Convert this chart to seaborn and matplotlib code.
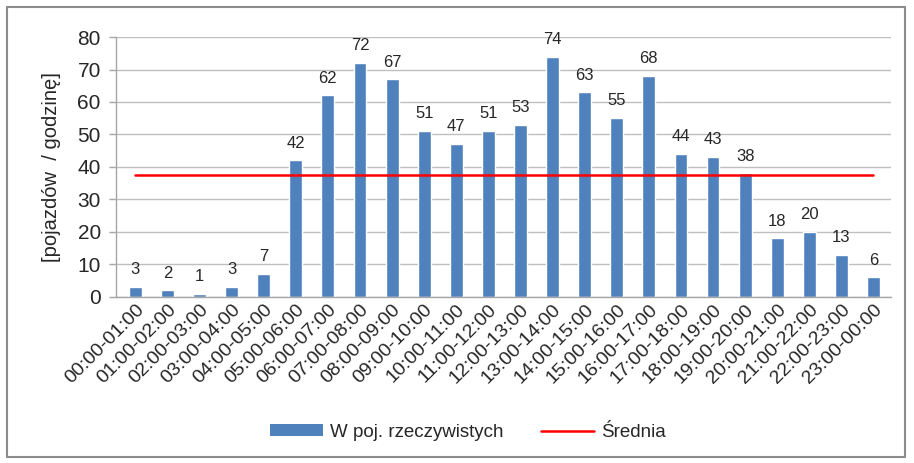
import matplotlib
matplotlib.use("Agg")
import matplotlib.pyplot as plt
import pandas as pd
import seaborn as sns
from matplotlib.lines import Line2D
from matplotlib.patches import Patch, Rectangle

# ── data ──────────────────────────────────────────────────────────────────
hours = [
    "00:00-01:00", "01:00-02:00", "02:00-03:00", "03:00-04:00", "04:00-05:00",
    "05:00-06:00", "06:00-07:00", "07:00-08:00", "08:00-09:00", "09:00-10:00",
    "10:00-11:00", "11:00-12:00", "12:00-13:00", "13:00-14:00", "14:00-15:00",
    "15:00-16:00", "16:00-17:00", "17:00-18:00", "18:00-19:00", "19:00-20:00",
    "20:00-21:00", "21:00-22:00", "22:00-23:00", "23:00-00:00",
]
vehicles = [3, 2, 1, 3, 7, 42, 62, 72, 67, 51, 47, 51, 53, 74, 63, 55, 68,
            44, 43, 38, 18, 20, 13, 6]
mean_value = sum(vehicles) / len(vehicles)

bar_label = "W poj. rzeczywistych"
line_label = "Średnia"
y_label = "[pojazdów  / godzinę]"

BAR_COLOR = "#4F81BD"
LINE_COLOR = "#FF0000"
GRID_COLOR = "#BFBFBF"
TEXT_COLOR = "#262626"

sns.set_theme(style="white")
plt.rcParams["font.family"] = ["Liberation Sans", "DejaVu Sans"]

df = pd.DataFrame({"hour": hours, "vehicles": vehicles, "mean": [mean_value] * len(hours)})

fig = plt.figure(figsize=(9.14, 4.63), dpi=100)
ax = fig.add_axes([0.127, 0.359, 0.848, 0.561])

sns.barplot(data=df, x="hour", y="vehicles", color=BAR_COLOR, width=0.4,
            saturation=1, ax=ax, zorder=2)
sns.lineplot(data=df, x="hour", y="mean", color=LINE_COLOR, linewidth=1.8,
             sort=False, ax=ax, zorder=3)

ax.bar_label(ax.containers[0], fontsize=12, padding=7, color=TEXT_COLOR)

ax.set_ylim(0, 80)
ax.set_yticks(range(0, 81, 10))
ax.set_xlim(-0.6, len(hours) - 0.45)
ax.yaxis.grid(True, color=GRID_COLOR, linewidth=1)
ax.set_axisbelow(True)
for side in ["top", "right"]:
    ax.spines[side].set_visible(False)
for side in ["left", "bottom"]:
    ax.spines[side].set_color("#A6A6A6")
    ax.spines[side].set_linewidth(1)

ax.tick_params(axis="y", labelsize=15, labelcolor=TEXT_COLOR, color="#A6A6A6",
               left=True, length=5, width=1, pad=6)
ax.tick_params(axis="x", labelsize=14, labelcolor=TEXT_COLOR, length=0, pad=3)
plt.setp(ax.get_xticklabels(), rotation=45, ha="right", rotation_mode="anchor")
ax.set_xlabel("")
ax.set_ylabel(y_label, fontsize=14.5, color=TEXT_COLOR, labelpad=12)

handles = [
    Patch(facecolor=BAR_COLOR, edgecolor="none"),
    Line2D([0], [0], color=LINE_COLOR, linewidth=1.8),
]
fig.legend(handles, [bar_label, line_label], loc="center", ncol=2,
           bbox_to_anchor=(0.512, 0.066), frameon=False, fontsize=13.5,
           handlelength=2.8, handleheight=0.6, columnspacing=2.0,
           handletextpad=0.4)

# outer frame like the exported chart area
fig.patches.append(Rectangle((0.008, 0.012), 0.982, 0.972, transform=fig.transFigure,
                             fill=False, edgecolor="#8C8C8C", linewidth=1.5))

plt.savefig("out.png", dpi=100)
plt.close()
